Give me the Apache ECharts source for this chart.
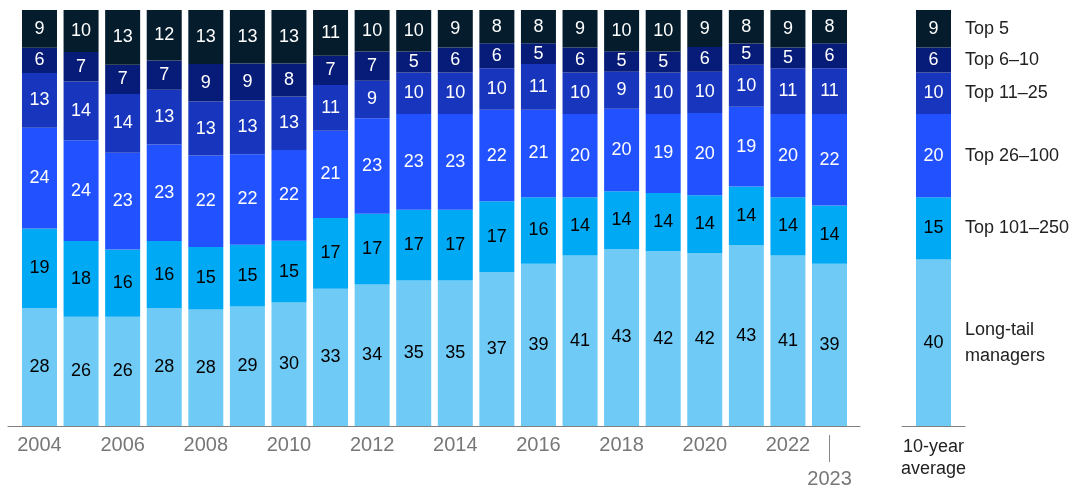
<!doctype html>
<html lang="en">
<head>
  <meta charset="UTF-8">
  <title>Market share by manager tier</title>
  <script src="https://cdn.jsdelivr.net/npm/echarts@6/dist/echarts.min.js"></script>
  <style>
    * {
      margin: 0;
      padding: 0;
    }

    #chart {
      width: 1079px;
      height: 487px;
    }
  </style>
</head>
<body>
<div id="chart"></div>
<script>
  const years = ['2004', '2005', '2006', '2007', '2008', '2009', '2010', '2011', '2012', '2013',
    '2014', '2015', '2016', '2017', '2018', '2019', '2020', '2021', '2022', '2023']
  const yearLabels = ['2004', '2006', '2008', '2010', '2012', '2014', '2016', '2018', '2020', '2022', '2023']

  // bottom to top
  const tierNames = ['Long-tail\nmanagers', 'Top 101–250', 'Top 26–100', 'Top 11–25', 'Top 6–10', 'Top 5']
  const longTail = [28, 26, 26, 28, 28, 29, 30, 33, 34, 35, 35, 37, 39, 41, 43, 42, 42, 43, 41, 39]
  const top101to250 = [19, 18, 16, 16, 15, 15, 15, 17, 17, 17, 17, 17, 16, 14, 14, 14, 14, 14, 14, 14]
  const top26to100 = [24, 24, 23, 23, 22, 22, 22, 21, 23, 23, 23, 22, 21, 20, 20, 19, 20, 19, 20, 22]
  const top11to25 = [13, 14, 14, 13, 13, 13, 13, 11, 9, 10, 10, 10, 11, 10, 9, 10, 10, 10, 11, 11]
  const top6to10 = [6, 7, 7, 7, 9, 9, 8, 7, 7, 5, 6, 6, 5, 6, 5, 5, 6, 5, 5, 6]
  const top5 = [9, 10, 13, 12, 13, 13, 13, 11, 10, 10, 9, 8, 8, 9, 10, 10, 9, 8, 9, 8]
  const tenYearAvg = [40, 15, 20, 10, 6, 9]
</script>
<script>
  const tiers = [longTail, top101to250, top26to100, top11to25, top6to10, top5]
  const colors = ['#6fcaf6', '#00a9f4', '#2251ff', '#1836bd', '#071b78', '#051c2c']
  const labelColors = ['#000', '#000', '#fff', '#fff', '#fff', '#fff']
  const font = "'Liberation Sans', Arial, sans-serif"

  // the published shares are rounded, bars are shown as full 100% columns
  const totals = years.map((y, i) => tiers.reduce((s, t) => s + t[i], 0))

  // midpoints of the average bar segments, for the tier names on the right
  const mids = []
  let acc = 0
  tenYearAvg.forEach(v => {
    mids.push(acc + v / 2)
    acc += v
  })

  const series = []
  tiers.forEach((t, k) => {
    series.push({
      type: 'bar',
      stack: 'years',
      xAxisIndex: 0,
      yAxisIndex: 0,
      barWidth: 35,
      itemStyle: {color: colors[k]},
      label: {
        show: true,
        position: 'inside',
        color: labelColors[k],
        fontSize: 18,
        fontFamily: font,
        formatter: p => t[p.dataIndex]
      },
      data: t.map((v, i) => v / totals[i] * 100)
    })
    series.push({
      type: 'bar',
      stack: 'avg',
      xAxisIndex: 1,
      yAxisIndex: 1,
      barWidth: 35,
      itemStyle: {color: colors[k]},
      label: {
        show: true,
        position: 'inside',
        color: labelColors[k],
        fontSize: 18,
        fontFamily: font
      },
      data: [tenYearAvg[k]]
    })
  })

  const chart = echarts.init(document.getElementById('chart'))
  chart.setOption({
    animation: false,
    grid: [
      {left: 18.7, width: 831.6, top: 10, bottom: 61, outerBoundsMode: 'none'},
      {left: 902, width: 63, top: 10, bottom: 61, outerBoundsMode: 'none'},
      // only carries the baseline under the yearly bars
      {left: 8, width: 852, top: 10, bottom: 61, outerBoundsMode: 'none'}
    ],
    xAxis: [
      {
        type: 'category',
        gridIndex: 0,
        data: years,
        axisLine: {show: false},
        axisTick: {show: false},
        axisLabel: {
          interval: 0,
          margin: 9,
          color: '#777',
          fontSize: 20,
          fontFamily: font,
          lineHeight: 20,
          formatter: v => {
            if (!yearLabels.includes(v)) return ''
            return v === '2023' ? '{bar| }\n{late|' + v + '}' : v
          },
          rich: {
            bar: {width: 1, height: 27, backgroundColor: '#888', fontSize: 1, lineHeight: 27},
            late: {color: '#777', fontSize: 20, fontFamily: font, lineHeight: 34}
          }
        }
      },
      {
        type: 'category',
        gridIndex: 1,
        data: ['10-year\naverage'],
        axisLine: {show: true, lineStyle: {color: '#808080', width: 1}},
        axisTick: {show: false},
        axisLabel: {
          margin: 10,
          color: '#222',
          fontSize: 18,
          fontFamily: font,
          lineHeight: 22
        }
      },
      {
        type: 'category',
        gridIndex: 2,
        data: [],
        axisLine: {show: true, lineStyle: {color: '#808080', width: 1}},
        axisTick: {show: false},
        axisLabel: {show: false}
      }
    ],
    yAxis: [
      {
        type: 'value',
        gridIndex: 0,
        min: 0,
        max: 100,
        show: false
      },
      {
        type: 'value',
        gridIndex: 1,
        min: 0,
        max: 100,
        position: 'right',
        splitLine: {show: false},
        axisLine: {show: false},
        axisTick: {show: false},
        axisLabel: {
          customValues: mids,
          margin: 0,
          color: '#222',
          fontSize: 18,
          fontFamily: font,
          lineHeight: 26,
          formatter: v => {
            let best = 0
            mids.forEach((m, i) => {
              if (Math.abs(m - v) < Math.abs(mids[best] - v)) best = i
            })
            return tierNames[best]
          }
        }
      },
      {
        type: 'value',
        gridIndex: 2,
        show: false
      }
    ],
    series: series
  })
</script>
</body>
</html>
